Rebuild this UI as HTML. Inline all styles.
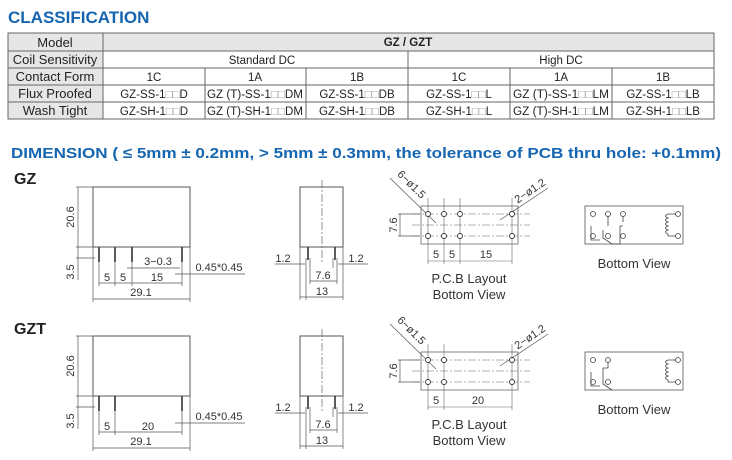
<!DOCTYPE html>
<html><head><meta charset="utf-8"><style>
body{margin:0;background:#fff;width:732px;height:460px;overflow:hidden}
svg{display:block}
</style></head><body>
<svg width="732" height="460" viewBox="0 0 732 460" xmlns="http://www.w3.org/2000/svg" font-family="'Liberation Sans', Arial, sans-serif">
<defs>
<g id="front">
  <rect x="93" y="187" width="97" height="60" fill="none" stroke="#555" stroke-width="1"/>
  <g stroke="#555" stroke-width="0.7" fill="none">
    <line x1="76" y1="187" x2="93" y2="187"/><line x1="76" y1="247" x2="93" y2="247"/>
    <line x1="78" y1="187" x2="78" y2="247"/>
    <line x1="76" y1="258" x2="95" y2="258"/>
    <line x1="78" y1="247" x2="78" y2="280"/>
    <line x1="93" y1="247" x2="93" y2="302"/><line x1="190" y1="247" x2="190" y2="302"/>
    <line x1="93" y1="299" x2="190" y2="299"/>
  </g>
  <text x="74" y="217" font-size="11" fill="#333" text-anchor="middle" transform="rotate(-90 74 217)">20.6</text>
  <text x="74" y="272" font-size="11" fill="#333" text-anchor="middle" transform="rotate(-90 74 272)">3.5</text>
  <text x="141" y="296" font-size="11" fill="#333" text-anchor="middle">29.1</text>
</g>
<g id="side">
  <rect x="300" y="187" width="43" height="60" fill="none" stroke="#555" stroke-width="1"/>
  <line x1="322" y1="180" x2="322" y2="262" stroke="#666" stroke-width="0.7" stroke-dasharray="8,2,2,2"/>
  <g stroke="#333" stroke-width="1.6"><line x1="308" y1="247" x2="308" y2="260"/><line x1="335" y1="247" x2="335" y2="260"/></g>
  <g stroke="#555" stroke-width="0.7" fill="none">
    <line x1="275" y1="264" x2="305" y2="264"/><line x1="338" y1="264" x2="368" y2="264"/>
    <line x1="306" y1="258" x2="306" y2="300"/><line x1="310" y1="258" x2="310" y2="284"/>
    <line x1="333" y1="258" x2="333" y2="268"/><line x1="337" y1="258" x2="337" y2="284"/>
    <line x1="310" y1="281" x2="337" y2="281"/>
    <line x1="300" y1="247" x2="300" y2="300"/><line x1="343" y1="247" x2="343" y2="300"/>
    <line x1="300" y1="297" x2="343" y2="297"/>
  </g>
  <text x="283" y="262" font-size="11" fill="#333" text-anchor="middle">1.2</text>
  <text x="356" y="262" font-size="11" fill="#333" text-anchor="middle">1.2</text>
  <text x="323" y="279" font-size="11" fill="#333" text-anchor="middle">7.6</text>
  <text x="322" y="295" font-size="11" fill="#333" text-anchor="middle">13</text>
</g>
<g id="pcbbase">
  <rect x="421" y="206" width="97" height="38" fill="none" stroke="#666" stroke-width="0.8"/>
  <g stroke="#666" stroke-width="0.6" stroke-dasharray="8,2,2,2">
    <line x1="412" y1="214" x2="530" y2="214"/><line x1="412" y1="225" x2="530" y2="225"/><line x1="412" y1="236" x2="530" y2="236"/>
  </g>
  <g stroke="#555" stroke-width="0.7" fill="none">
    <line x1="398" y1="214" x2="420" y2="214"/><line x1="398" y1="236" x2="420" y2="236"/>
    <line x1="400" y1="214" x2="400" y2="236"/>
    <line x1="390" y1="178" x2="436" y2="223"/>
    <line x1="500" y1="220" x2="548" y2="188"/>
  </g>
  <text x="397" y="225" font-size="11" fill="#333" text-anchor="middle" transform="rotate(-90 397 225)">7.6</text>
  <text x="409" y="187" font-size="11" fill="#333" text-anchor="middle" transform="rotate(45 409 187)">6−ø1.5</text>
  <text x="532" y="194" font-size="11" fill="#333" text-anchor="middle" transform="rotate(-34 532 194)">2−ø1.2</text>
  <text x="469" y="283" font-size="13" fill="#333" text-anchor="middle">P.C.B Layout</text>
  <text x="469" y="299" font-size="13" fill="#333" text-anchor="middle">Bottom View</text>
  <rect x="585" y="206" width="98" height="38" fill="none" stroke="#555" stroke-width="0.8"/>
  <text x="634" y="268" font-size="13" fill="#333" text-anchor="middle">Bottom View</text>
  <g fill="none" stroke="#444" stroke-width="0.8">
    <circle cx="678" cy="214" r="2.5"/><circle cx="678" cy="236" r="2.5"/>
    <path d="M676 214 H668 M676 236 H668 M668 214 q-5 2 0 4 q-5 2 0 4 q-5 2 0 4 q-5 2 0 4 q-5 2 0 4 V236"/>
  </g>
</g>
</defs>

<text x="8" y="23" font-size="17" font-weight="bold" fill="#1565b0">CLASSIFICATION</text>
<rect x="8" y="33" width="95" height="86" fill="#e6e6e6"/>
<rect x="103" y="33" width="611" height="18" fill="#e6e6e6"/>
<g stroke="#666" stroke-width="1" fill="none">
  <rect x="8" y="33" width="706" height="86"/>
  <line x1="8" y1="51" x2="714" y2="51"/><line x1="8" y1="68" x2="714" y2="68"/>
  <line x1="8" y1="85" x2="714" y2="85"/><line x1="8" y1="102" x2="714" y2="102"/>
  <line x1="103" y1="33" x2="103" y2="119"/>
  <line x1="408" y1="51" x2="408" y2="119"/>
  <line x1="205" y1="68" x2="205" y2="119"/><line x1="306" y1="68" x2="306" y2="119"/>
  <line x1="510" y1="68" x2="510" y2="119"/><line x1="612" y1="68" x2="612" y2="119"/>
</g>
<g font-size="13" fill="#222" text-anchor="middle">
  <text x="55" y="47">Model</text><text x="55" y="64">Coil Sensitivity</text>
  <text x="55" y="81">Contact Form</text><text x="55" y="98">Flux Proofed</text><text x="55" y="115">Wash Tight</text>
</g>
<g font-size="11.5" fill="#222" text-anchor="middle">
  <text x="408" y="46" font-weight="bold">GZ / GZT</text>
  <text x="262" y="64">Standard DC</text><text x="561" y="64">High DC</text>
  <text x="154" y="81">1C</text><text x="255" y="81">1A</text><text x="357" y="81">1B</text>
  <text x="459" y="81">1C</text><text x="561" y="81">1A</text><text x="663" y="81">1B</text>
</g>
<g font-size="11.5" fill="#222" text-anchor="middle">
  <text x="154" y="98">GZ-SS-1<tspan fill="#999">□□</tspan>D</text>
  <text x="255" y="98" textLength="96" lengthAdjust="spacingAndGlyphs">GZ (T)-SS-1<tspan fill="#999">□□</tspan>DM</text>
  <text x="357" y="98">GZ-SS-1<tspan fill="#999">□□</tspan>DB</text>
  <text x="459" y="98">GZ-SS-1<tspan fill="#999">□□</tspan>L</text>
  <text x="561" y="98" textLength="96" lengthAdjust="spacingAndGlyphs">GZ (T)-SS-1<tspan fill="#999">□□</tspan>LM</text>
  <text x="663" y="98">GZ-SS-1<tspan fill="#999">□□</tspan>LB</text>
  <text x="154" y="115">GZ-SH-1<tspan fill="#999">□□</tspan>D</text>
  <text x="255" y="115" textLength="96" lengthAdjust="spacingAndGlyphs">GZ (T)-SH-1<tspan fill="#999">□□</tspan>DM</text>
  <text x="357" y="115">GZ-SH-1<tspan fill="#999">□□</tspan>DB</text>
  <text x="459" y="115">GZ-SH-1<tspan fill="#999">□□</tspan>L</text>
  <text x="561" y="115" textLength="96" lengthAdjust="spacingAndGlyphs">GZ (T)-SH-1<tspan fill="#999">□□</tspan>LM</text>
  <text x="663" y="115">GZ-SH-1<tspan fill="#999">□□</tspan>LB</text>
</g>

<text x="11" y="158" font-size="15" font-weight="bold" fill="#1565b0" textLength="710" lengthAdjust="spacingAndGlyphs">DIMENSION ( ≤ 5mm ± 0.2mm, &gt; 5mm ± 0.3mm, the tolerance of PCB thru hole: +0.1mm)</text>

<text x="14" y="184" font-size="16" font-weight="bold" fill="#222">GZ</text>
<use href="#front"/>
<g stroke="#333" stroke-width="1.6"><line x1="99" y1="247" x2="99" y2="262"/><line x1="115" y1="247" x2="115" y2="262"/><line x1="132" y1="247" x2="132" y2="262"/><line x1="182" y1="247" x2="182" y2="262"/></g>
<g stroke="#555" stroke-width="0.7">
  <line x1="99" y1="262" x2="99" y2="286"/><line x1="115" y1="262" x2="115" y2="286"/><line x1="132" y1="262" x2="132" y2="286"/><line x1="182" y1="262" x2="182" y2="286"/>
  <line x1="99" y1="283" x2="182" y2="283"/>
  <line x1="127" y1="268" x2="180" y2="268"/>
  <line x1="175" y1="274" x2="245" y2="274"/>
</g>
<g font-size="11" fill="#333" text-anchor="middle">
  <text x="107" y="281">5</text><text x="123" y="281">5</text><text x="157" y="281">15</text>
  <text x="158" y="265">3−0.3</text><text x="219" y="271">0.45*0.45</text>
</g>
<use href="#side"/>
<use href="#pcbbase"/>
<g stroke="#666" stroke-width="0.6"><line x1="428" y1="198" x2="428" y2="264"/><line x1="444" y1="198" x2="444" y2="264"/><line x1="460" y1="198" x2="460" y2="264"/><line x1="512" y1="198" x2="512" y2="264"/><line x1="428" y1="261" x2="512" y2="261"/></g>
<g fill="#fff" stroke="#333" stroke-width="0.9"><circle cx="428" cy="214" r="2.5"/><circle cx="444" cy="214" r="2.5"/><circle cx="460" cy="214" r="2.5"/><circle cx="512" cy="214" r="2.5"/><circle cx="428" cy="236" r="2.5"/><circle cx="444" cy="236" r="2.5"/><circle cx="460" cy="236" r="2.5"/><circle cx="512" cy="236" r="2.5"/></g>
<g font-size="11" fill="#333" text-anchor="middle"><text x="436" y="258">5</text><text x="452" y="258">5</text><text x="486" y="258">15</text></g>
<g fill="none" stroke="#444" stroke-width="0.8">
  <circle cx="593" cy="214" r="2.5"/><circle cx="608" cy="214" r="2.5"/><circle cx="623" cy="214" r="2.5"/>
  <circle cx="593" cy="236" r="2.5"/><circle cx="608" cy="236" r="2.5"/><circle cx="623" cy="236" r="2.5"/>
  <path d="M591 226 V240 H600 M603 230 V238 L612 244 H620 V226 H623 M608 216 V226 M623 216 V222"/>
</g>

<text x="14" y="334" font-size="16" font-weight="bold" fill="#222">GZT</text>
<g transform="translate(0,149)">
<use href="#front"/>
<g stroke="#333" stroke-width="1.6"><line x1="99" y1="247" x2="99" y2="262"/><line x1="115" y1="247" x2="115" y2="262"/><line x1="182" y1="247" x2="182" y2="262"/></g>
<g stroke="#555" stroke-width="0.7">
  <line x1="99" y1="262" x2="99" y2="286"/><line x1="115" y1="262" x2="115" y2="286"/><line x1="182" y1="262" x2="182" y2="286"/>
  <line x1="99" y1="283" x2="182" y2="283"/>
  <line x1="175" y1="274" x2="245" y2="274"/>
</g>
<g font-size="11" fill="#333" text-anchor="middle"><text x="107" y="281">5</text><text x="148" y="281">20</text><text x="219" y="271">0.45*0.45</text></g>
<use href="#side"/>
</g>
<g transform="translate(0,146)">
<use href="#pcbbase"/>
<g stroke="#666" stroke-width="0.6"><line x1="428" y1="198" x2="428" y2="264"/><line x1="444" y1="198" x2="444" y2="264"/><line x1="512" y1="198" x2="512" y2="264"/><line x1="428" y1="261" x2="512" y2="261"/></g>
<g fill="#fff" stroke="#333" stroke-width="0.9"><circle cx="428" cy="214" r="2.5"/><circle cx="444" cy="214" r="2.5"/><circle cx="512" cy="214" r="2.5"/><circle cx="428" cy="236" r="2.5"/><circle cx="444" cy="236" r="2.5"/><circle cx="512" cy="236" r="2.5"/></g>
<g font-size="11" fill="#333" text-anchor="middle"><text x="436" y="258">5</text><text x="478" y="258">20</text></g>
<g fill="none" stroke="#444" stroke-width="0.8">
  <circle cx="593" cy="214" r="2.5"/><circle cx="608" cy="214" r="2.5"/>
  <circle cx="593" cy="236" r="2.5"/><circle cx="608" cy="236" r="2.5"/>
  <path d="M591 226 V240 H600 M603 230 V238 L612 244 M603 230 V222 H608 V216"/>
</g>
</g>
</svg>
</body></html>
